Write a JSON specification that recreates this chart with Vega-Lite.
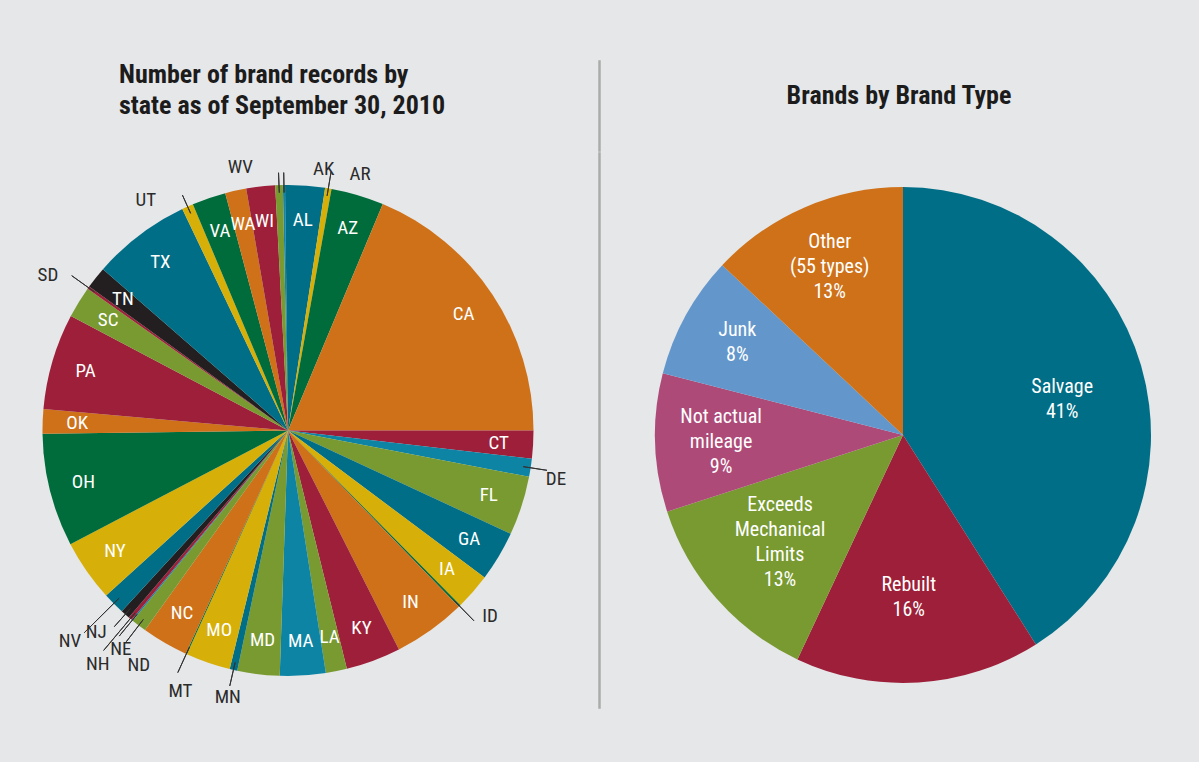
{
  "$schema": "https://vega.github.io/schema/vega-lite/v6.json",
  "background": "#E6E7E9",
  "padding": {"left": 10, "top": 60, "right": 26, "bottom": 48},
  "config": {
    "view": {"stroke": null},
    "font": "Roboto Condensed, Roboto, sans-serif",
    "title": {"font": "Roboto Condensed, Roboto, sans-serif", "fontSize": 26, "fontWeight": "bold", "color": "#1c1c1c", "lineHeight": 31}
  },
  "datasets": {
    "states": [
      {"state": "AK", "share": 0.14}, {"state": "AL", "share": 2.61}, {"state": "AR", "share": 0.42},
      {"state": "AZ", "share": 3.47}, {"state": "CA", "share": 18.69}, {"state": "CT", "share": 1.83},
      {"state": "DE", "share": 1.19}, {"state": "FL", "share": 3.89}, {"state": "GA", "share": 3.31},
      {"state": "IA", "share": 2.39}, {"state": "ID", "share": 0.14}, {"state": "IN", "share": 4.78},
      {"state": "KY", "share": 3.61}, {"state": "LA", "share": 1.39}, {"state": "MA", "share": 3.0},
      {"state": "MD", "share": 2.78}, {"state": "MN", "share": 0.5}, {"state": "MO", "share": 2.94},
      {"state": "MT", "share": 0.08}, {"state": "NC", "share": 3.06}, {"state": "ND", "share": 1.0},
      {"state": "NE", "share": 0.08}, {"state": "NH", "share": 0.25}, {"state": "NJ", "share": 0.61},
      {"state": "NV", "share": 1.44}, {"state": "NY", "share": 4.06}, {"state": "OH", "share": 7.44},
      {"state": "OK", "share": 1.61}, {"state": "PA", "share": 6.33}, {"state": "SC", "share": 2.08},
      {"state": "SD", "share": 0.17}, {"state": "TN", "share": 1.44}, {"state": "TX", "share": 6.5},
      {"state": "UT", "share": 0.75}, {"state": "VA", "share": 2.22}, {"state": "WA", "share": 1.39},
      {"state": "WI", "share": 1.89}, {"state": "WV", "share": 0.5}
    ],
    "brandTypes": [
      {"idx": 1, "type": "Salvage", "label": "Salvage\n41%", "share": 41},
      {"idx": 2, "type": "Rebuilt", "label": "Rebuilt\n16%", "share": 16},
      {"idx": 3, "type": "Exceeds Mechanical Limits", "label": "Exceeds\nMechanical\nLimits\n13%", "share": 13},
      {"idx": 4, "type": "Not actual mileage", "label": "Not actual\nmileage\n9%", "share": 9},
      {"idx": 5, "type": "Junk", "label": "Junk\n8%", "share": 8},
      {"idx": 6, "type": "Other (55 types)", "label": "Other\n(55 types)\n13%", "share": 13}
    ]
  },
  "spacing": 0,
  "resolve": {"scale": {"color": "independent", "theta": "independent"}},
  "vconcat": [
    {
      "bounds": "flush",
      "spacing": 33,
      "resolve": {"scale": {"color": "independent", "theta": "independent"}},
      "hconcat": [
        {
          "width": 556, "height": 90,
          "data": {"values": []},
          "mark": "point",
          "title": {"text": ["Number of brand records by", "state as of September 30, 2010"], "anchor": "start", "dx": 109, "offset": -58}
        },
        {
          "width": 1, "height": 90,
          "view": {"stroke": "#ABABAB", "strokeWidth": 1.5},
          "data": {"values": []},
          "mark": "point"
        },
        {
          "width": 540, "height": 90,
          "data": {"values": []},
          "mark": "point",
          "title": {"text": "Brands by Brand Type", "anchor": "middle", "dx": -4, "offset": -48}
        }
      ]
    },
    {
      "bounds": "flush",
      "spacing": 33,
      "resolve": {"scale": {"color": "independent", "theta": "independent"}},
      "hconcat": [
        {
          "width": 556,
          "height": 555,
          "data": {"name": "states"},
          "layer": [
            {
              "mark": {"type": "arc", "radius": 245.5},
              "encoding": {
                "theta": {"field": "share", "type": "quantitative", "stack": true, "scale": {"range": [-0.02094, 6.26224]}},
                "order": {"field": "state", "type": "ordinal", "sort": "ascending"},
                "color": {
                  "field": "state", "type": "nominal", "legend": null,
                  "scale": {
                    "domain": ["AK","AL","AR","AZ","CA","CT","DE","FL","GA","IA","ID","IN","KY","LA","MA","MD","MN","MO","MT","NC","ND","NE","NH","NJ","NV","NY","OH","OK","PA","SC","SD","TN","TX","UT","VA","WA","WI","WV"],
                    "range": ["#1185AE","#006E86","#D6AF08","#006C3B","#CE7119","#9D1F39","#0E84A5","#789A31","#006E86","#D6AF08","#006C3B","#CE7119","#9D1F39","#789A31","#0E84A5","#789A31","#006E86","#D6AF08","#006C3B","#CE7119","#789A31","#0E84A5","#9D1F39","#231F20","#006E86","#D6AF08","#006C3B","#CE7119","#9D1F39","#789A31","#9D1F39","#231F20","#006E86","#D6AF08","#006C3B","#CE7119","#9D1F39","#789A31"]
                  }
                }
              }
            },
            {
              "mark": {"type": "arc", "clip": true, "radius": 258, "radius2": 238, "padAngle": 0.4, "fill": "transparent", "stroke": "#333333", "strokeWidth": 1},
              "encoding": {
                "theta": {"field": "share", "type": "quantitative", "stack": true, "scale": {"range": [-0.02094, 6.26224]}},
                "order": {"field": "state", "type": "ordinal", "sort": "ascending"},
                "detail": {"field": "state", "type": "nominal"},
                "strokeOpacity": {"condition": {"test": "indexof(['WV','AK','UT'], datum.state) >= 0", "value": 1}, "value": 0}
              }
            },
            {
              "mark": {"type": "arc", "clip": true, "radius": 262, "radius2": 238, "padAngle": 0.4, "fill": "transparent", "stroke": "#333333", "strokeWidth": 1},
              "encoding": {
                "theta": {"field": "share", "type": "quantitative", "stack": true, "scale": {"range": [-0.02094, 6.26224]}},
                "order": {"field": "state", "type": "ordinal", "sort": "ascending"},
                "detail": {"field": "state", "type": "nominal"},
                "strokeOpacity": {"condition": {"test": "indexof(['AR','DE','MN','NJ'], datum.state) >= 0", "value": 1}, "value": 0}
              }
            },
            {
              "mark": {"type": "arc", "clip": true, "radius": 266, "radius2": 238, "padAngle": 0.4, "fill": "transparent", "stroke": "#333333", "strokeWidth": 1},
              "encoding": {
                "theta": {"field": "share", "type": "quantitative", "stack": true, "scale": {"range": [-0.02094, 6.26224]}},
                "order": {"field": "state", "type": "ordinal", "sort": "ascending"},
                "detail": {"field": "state", "type": "nominal"},
                "strokeOpacity": {"condition": {"test": "indexof(['SD','ID','ND','NE','MT'], datum.state) >= 0", "value": 1}, "value": 0}
              }
            },
            {
              "mark": {"type": "arc", "clip": true, "radius": 287, "radius2": 238, "padAngle": 0.4, "fill": "transparent", "stroke": "#333333", "strokeWidth": 1},
              "encoding": {
                "theta": {"field": "share", "type": "quantitative", "stack": true, "scale": {"range": [-0.02094, 6.26224]}},
                "order": {"field": "state", "type": "ordinal", "sort": "ascending"},
                "detail": {"field": "state", "type": "nominal"},
                "strokeOpacity": {"condition": {"test": "indexof(['NV','NH'], datum.state) >= 0", "value": 1}, "value": 0}
              }
            },
            {
              "mark": {"type": "text", "radius": 211, "fontSize": 19, "fill": "#ffffff"},
              "encoding": {
                "theta": {"field": "share", "type": "quantitative", "stack": true, "scale": {"range": [-0.02094, 6.26224]}},
                "order": {"field": "state", "type": "ordinal", "sort": "ascending"},
                "detail": {"field": "state", "type": "nominal"},
                "text": {"condition": {"test": "indexof(['WV','AK','AR','UT','SD','DE','ID','MN','MT','ND','NE','NH','NJ','NV'], datum.state) < 0", "field": "state", "type": "nominal"}, "value": ""}
              }
            },
            {"mark": {"type": "text", "clip": true, "radius": 262, "dx": -38, "dy": -2, "fontSize": 19, "fill": "#2b2b2b"},
             "encoding": {"theta": {"field": "share", "type": "quantitative", "stack": true, "scale": {"range": [-0.02094, 6.26224]}}, "order": {"field": "state", "type": "ordinal", "sort": "ascending"}, "detail": {"field": "state", "type": "nominal"},
              "text": {"condition": {"test": "datum.state === 'WV'", "field": "state", "type": "nominal"}, "value": ""}}},
            {"mark": {"type": "text", "clip": true, "radius": 262, "dx": 40, "dy": 0, "fontSize": 19, "fill": "#2b2b2b"},
             "encoding": {"theta": {"field": "share", "type": "quantitative", "stack": true, "scale": {"range": [-0.02094, 6.26224]}}, "order": {"field": "state", "type": "ordinal", "sort": "ascending"}, "detail": {"field": "state", "type": "nominal"},
              "text": {"condition": {"test": "datum.state === 'AK'", "field": "state", "type": "nominal"}, "value": ""}}},
            {"mark": {"type": "text", "clip": true, "radius": 262, "dx": 29, "dy": 2, "fontSize": 19, "fill": "#2b2b2b"},
             "encoding": {"theta": {"field": "share", "type": "quantitative", "stack": true, "scale": {"range": [-0.02094, 6.26224]}}, "order": {"field": "state", "type": "ordinal", "sort": "ascending"}, "detail": {"field": "state", "type": "nominal"},
              "text": {"condition": {"test": "datum.state === 'AR'", "field": "state", "type": "nominal"}, "value": ""}}},
            {"mark": {"type": "text", "clip": true, "radius": 262, "dx": -35, "dy": 9, "fontSize": 19, "fill": "#2b2b2b"},
             "encoding": {"theta": {"field": "share", "type": "quantitative", "stack": true, "scale": {"range": [-0.02094, 6.26224]}}, "order": {"field": "state", "type": "ordinal", "sort": "ascending"}, "detail": {"field": "state", "type": "nominal"},
              "text": {"condition": {"test": "datum.state === 'UT'", "field": "state", "type": "nominal"}, "value": ""}}},
            {"mark": {"type": "text", "clip": true, "radius": 262, "dx": -27, "dy": -3, "fontSize": 19, "fill": "#2b2b2b"},
             "encoding": {"theta": {"field": "share", "type": "quantitative", "stack": true, "scale": {"range": [-0.02094, 6.26224]}}, "order": {"field": "state", "type": "ordinal", "sort": "ascending"}, "detail": {"field": "state", "type": "nominal"},
              "text": {"condition": {"test": "datum.state === 'SD'", "field": "state", "type": "nominal"}, "value": ""}}},
            {"mark": {"type": "text", "clip": true, "radius": 262, "dx": 9, "dy": 9, "fontSize": 19, "fill": "#2b2b2b"},
             "encoding": {"theta": {"field": "share", "type": "quantitative", "stack": true, "scale": {"range": [-0.02094, 6.26224]}}, "order": {"field": "state", "type": "ordinal", "sort": "ascending"}, "detail": {"field": "state", "type": "nominal"},
              "text": {"condition": {"test": "datum.state === 'DE'", "field": "state", "type": "nominal"}, "value": ""}}},
            {"mark": {"type": "text", "clip": true, "radius": 262, "dx": 19, "dy": -2, "fontSize": 19, "fill": "#2b2b2b"},
             "encoding": {"theta": {"field": "share", "type": "quantitative", "stack": true, "scale": {"range": [-0.02094, 6.26224]}}, "order": {"field": "state", "type": "ordinal", "sort": "ascending"}, "detail": {"field": "state", "type": "nominal"},
              "text": {"condition": {"test": "datum.state === 'ID'", "field": "state", "type": "nominal"}, "value": ""}}},
            {"mark": {"type": "text", "clip": true, "radius": 262, "dx": -2, "dy": 11, "fontSize": 19, "fill": "#2b2b2b"},
             "encoding": {"theta": {"field": "share", "type": "quantitative", "stack": true, "scale": {"range": [-0.02094, 6.26224]}}, "order": {"field": "state", "type": "ordinal", "sort": "ascending"}, "detail": {"field": "state", "type": "nominal"},
              "text": {"condition": {"test": "datum.state === 'MN'", "field": "state", "type": "nominal"}, "value": ""}}},
            {"mark": {"type": "text", "clip": true, "radius": 262, "dx": 1, "dy": 22, "fontSize": 19, "fill": "#2b2b2b"},
             "encoding": {"theta": {"field": "share", "type": "quantitative", "stack": true, "scale": {"range": [-0.02094, 6.26224]}}, "order": {"field": "state", "type": "ordinal", "sort": "ascending"}, "detail": {"field": "state", "type": "nominal"},
              "text": {"condition": {"test": "datum.state === 'MT'", "field": "state", "type": "nominal"}, "value": ""}}},
            {"mark": {"type": "text", "clip": true, "radius": 262, "dx": 10, "dy": 26, "fontSize": 19, "fill": "#2b2b2b"},
             "encoding": {"theta": {"field": "share", "type": "quantitative", "stack": true, "scale": {"range": [-0.02094, 6.26224]}}, "order": {"field": "state", "type": "ordinal", "sort": "ascending"}, "detail": {"field": "state", "type": "nominal"},
              "text": {"condition": {"test": "datum.state === 'ND'", "field": "state", "type": "nominal"}, "value": ""}}},
            {"mark": {"type": "text", "clip": true, "radius": 262, "dx": -1, "dy": 16, "fontSize": 19, "fill": "#2b2b2b"},
             "encoding": {"theta": {"field": "share", "type": "quantitative", "stack": true, "scale": {"range": [-0.02094, 6.26224]}}, "order": {"field": "state", "type": "ordinal", "sort": "ascending"}, "detail": {"field": "state", "type": "nominal"},
              "text": {"condition": {"test": "datum.state === 'NE'", "field": "state", "type": "nominal"}, "value": ""}}},
            {"mark": {"type": "text", "clip": true, "radius": 262, "dx": -22, "dy": 33, "fontSize": 19, "fill": "#2b2b2b"},
             "encoding": {"theta": {"field": "share", "type": "quantitative", "stack": true, "scale": {"range": [-0.02094, 6.26224]}}, "order": {"field": "state", "type": "ordinal", "sort": "ascending"}, "detail": {"field": "state", "type": "nominal"},
              "text": {"condition": {"test": "datum.state === 'NH'", "field": "state", "type": "nominal"}, "value": ""}}},
            {"mark": {"type": "text", "clip": true, "radius": 262, "dx": -18, "dy": 5, "fontSize": 19, "fill": "#2b2b2b"},
             "encoding": {"theta": {"field": "share", "type": "quantitative", "stack": true, "scale": {"range": [-0.02094, 6.26224]}}, "order": {"field": "state", "type": "ordinal", "sort": "ascending"}, "detail": {"field": "state", "type": "nominal"},
              "text": {"condition": {"test": "datum.state === 'NJ'", "field": "state", "type": "nominal"}, "value": ""}}},
            {"mark": {"type": "text", "clip": true, "radius": 262, "dx": -32, "dy": 26, "fontSize": 19, "fill": "#2b2b2b"},
             "encoding": {"theta": {"field": "share", "type": "quantitative", "stack": true, "scale": {"range": [-0.02094, 6.26224]}}, "order": {"field": "state", "type": "ordinal", "sort": "ascending"}, "detail": {"field": "state", "type": "nominal"},
              "text": {"condition": {"test": "datum.state === 'NV'", "field": "state", "type": "nominal"}, "value": ""}}}
          ]
        },
        {
          "width": 1, "height": 555,
          "view": {"stroke": "#ABABAB", "strokeWidth": 1.5},
          "data": {"values": []},
          "mark": "point"
        },
        {
          "width": 540,
          "height": 564,
          "data": {"name": "brandTypes"},
          "layer": [
            {
              "mark": {"type": "arc", "radius": 248},
              "encoding": {
                "theta": {"field": "share", "type": "quantitative", "stack": true},
                "order": {"field": "idx", "type": "quantitative", "sort": "ascending"},
                "color": {
                  "field": "type", "type": "nominal", "legend": null,
                  "scale": {
                    "domain": ["Salvage", "Rebuilt", "Exceeds Mechanical Limits", "Not actual mileage", "Junk", "Other (55 types)"],
                    "range": ["#006E86", "#9D1F39", "#789A31", "#AE4A78", "#6397CC", "#CE7119"]
                  }
                }
              }
            },
            {
              "mark": {"type": "text", "radius": 172, "dx": -6, "dy": -0.5, "fill": "#ffffff", "fontSize": 20, "lineHeight": 25, "lineBreak": "\n"},
              "encoding": {
                "theta": {"field": "share", "type": "quantitative", "stack": true},
                "order": {"field": "idx", "type": "quantitative", "sort": "ascending"},
                "detail": {"field": "type", "type": "nominal"},
                "text": {"condition": {"test": "datum.type === 'Salvage'", "field": "label", "type": "nominal"}, "value": ""}
              }
            },
            {
              "mark": {"type": "text", "radius": 172, "dx": -5, "dy": -21.5, "fill": "#ffffff", "fontSize": 20, "lineHeight": 25, "lineBreak": "\n"},
              "encoding": {
                "theta": {"field": "share", "type": "quantitative", "stack": true},
                "order": {"field": "idx", "type": "quantitative", "sort": "ascending"},
                "detail": {"field": "type", "type": "nominal"},
                "text": {"condition": {"test": "datum.type === 'Rebuilt'", "field": "label", "type": "nominal"}, "value": ""}
              }
            },
            {
              "mark": {"type": "text", "radius": 172, "dx": 6, "dy": -43.5, "fill": "#ffffff", "fontSize": 20, "lineHeight": 25, "lineBreak": "\n"},
              "encoding": {
                "theta": {"field": "share", "type": "quantitative", "stack": true},
                "order": {"field": "idx", "type": "quantitative", "sort": "ascending"},
                "detail": {"field": "type", "type": "nominal"},
                "text": {"condition": {"test": "datum.type === 'Exceeds Mechanical Limits'", "field": "label", "type": "nominal"}, "value": ""}
              }
            },
            {
              "mark": {"type": "text", "radius": 172, "dx": -10, "dy": -23, "fill": "#ffffff", "fontSize": 20, "lineHeight": 25, "lineBreak": "\n"},
              "encoding": {
                "theta": {"field": "share", "type": "quantitative", "stack": true},
                "order": {"field": "idx", "type": "quantitative", "sort": "ascending"},
                "detail": {"field": "type", "type": "nominal"},
                "text": {"condition": {"test": "datum.type === 'Not actual mileage'", "field": "label", "type": "nominal"}, "value": ""}
              }
            },
            {
              "mark": {"type": "text", "radius": 172, "dx": -15, "dy": -22.5, "fill": "#ffffff", "fontSize": 20, "lineHeight": 25, "lineBreak": "\n"},
              "encoding": {
                "theta": {"field": "share", "type": "quantitative", "stack": true},
                "order": {"field": "idx", "type": "quantitative", "sort": "ascending"},
                "detail": {"field": "type", "type": "nominal"},
                "text": {"condition": {"test": "datum.type === 'Junk'", "field": "label", "type": "nominal"}, "value": ""}
              }
            },
            {
              "mark": {"type": "text", "radius": 172, "dx": -5, "dy": -35, "fill": "#ffffff", "fontSize": 20, "lineHeight": 25, "lineBreak": "\n"},
              "encoding": {
                "theta": {"field": "share", "type": "quantitative", "stack": true},
                "order": {"field": "idx", "type": "quantitative", "sort": "ascending"},
                "detail": {"field": "type", "type": "nominal"},
                "text": {"condition": {"test": "datum.type === 'Other (55 types)'", "field": "label", "type": "nominal"}, "value": ""}
              }
            }
          ]
        }
      ]
    }
  ]
}
